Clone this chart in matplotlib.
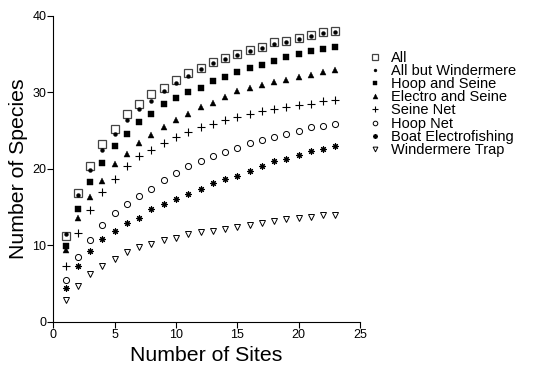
import matplotlib
matplotlib.use("Agg")
import matplotlib.pyplot as plt

plt.rcParams['font.family'] = ['Liberation Sans', 'DejaVu Sans']

sites = list(range(1, 24))

all_methods = [11.2, 16.8, 20.4, 23.2, 25.2, 27.1, 28.5, 29.7, 30.6, 31.6, 32.5, 33.2,
               33.9, 34.5, 35.0, 35.5, 35.9, 36.5, 36.7, 37.1, 37.5, 37.8, 38.0]
all_but_windermere = [11.5, 16.5, 19.8, 22.5, 24.5, 26.3, 27.8, 28.9, 30.1, 31.2, 32.1, 33.0,
                      33.8, 34.3, 34.8, 35.4, 35.8, 36.3, 36.6, 37.0, 37.4, 37.7, 37.9]
hoop_and_seine = [9.9, 14.7, 18.2, 20.7, 22.9, 24.5, 26.1, 27.2, 28.4, 29.3, 30.0, 30.6,
                  31.4, 32.0, 32.6, 33.1, 33.6, 34.1, 34.6, 35.0, 35.4, 35.6, 35.9]
electro_and_seine = [9.4, 13.5, 16.3, 18.4, 20.6, 21.9, 23.4, 24.4, 25.5, 26.4, 27.2, 28.0,
                     28.6, 29.4, 30.1, 30.6, 30.9, 31.3, 31.6, 32.0, 32.3, 32.6, 32.9]
seine_net = [7.3, 11.6, 14.6, 16.9, 18.6, 20.4, 21.6, 22.5, 23.4, 24.2, 24.8, 25.4,
             25.9, 26.4, 26.8, 27.2, 27.6, 27.8, 28.1, 28.3, 28.5, 28.8, 29.0]
hoop_net = [5.5, 8.5, 10.7, 12.6, 14.2, 15.4, 16.4, 17.4, 18.5, 19.4, 20.4, 21.0,
            21.7, 22.2, 22.7, 23.3, 23.8, 24.1, 24.5, 24.9, 25.4, 25.6, 25.9]
boat_electrofishing = [4.4, 7.3, 9.2, 10.8, 11.9, 12.9, 13.6, 14.7, 15.4, 16.0, 16.7, 17.4,
                       18.1, 18.6, 19.1, 19.7, 20.4, 21.0, 21.3, 21.8, 22.3, 22.6, 23.0]
windermere_trap = [2.8, 4.7, 6.2, 7.3, 8.2, 9.1, 9.7, 10.2, 10.7, 11.0, 11.4, 11.7,
                   11.9, 12.1, 12.4, 12.7, 12.9, 13.2, 13.4, 13.5, 13.7, 13.9, 14.0]

labels = ["All", "All but Windermere", "Hoop and Seine", "Electro and Seine",
          "Seine Net", "Hoop Net", "Boat Electrofishing", "Windermere Trap"]
series = [all_methods, all_but_windermere, hoop_and_seine, electro_and_seine,
          seine_net, hoop_net, boat_electrofishing, windermere_trap]

styles = [
    dict(marker='s', ms=5.2, mfc='white', mec='#444444', mew=0.9),
    dict(marker='o', ms=2.8, mfc='black', mec='black', mew=0.3),
    dict(marker='s', ms=4.2, mfc='black', mec='black', mew=0.3),
    dict(marker='^', ms=4.8, mfc='black', mec='black', mew=0.3),
    dict(marker='+', ms=5.5, mfc='black', mec='black', mew=0.8),
    dict(marker='o', ms=4.4, mfc='white', mec='black', mew=0.7),
    dict(marker=(8, 2, 0), ms=4.6, mfc='black', mec='black', mew=0.8),
    dict(marker='v', ms=4.6, mfc='white', mec='black', mew=0.7),
]

fig = plt.figure(figsize=(5.33, 3.71), dpi=100)
ax = fig.add_axes([0.100, 0.133, 0.5754, 0.8248])

handles = []
for values, label, st in zip(series, labels, styles):
    h, = ax.plot(sites, values, linestyle='none', label=label, **st)
    handles.append(h)

ax.set_xlim(0, 25)
ax.set_ylim(0, 40)
ax.set_xticks([0, 5, 10, 15, 20, 25])
ax.set_yticks([0, 10, 20, 30, 40])
ax.tick_params(direction='out', length=4, width=0.8, labelsize=9, pad=1)
for side in ('top', 'right'):
    ax.spines[side].set_visible(False)
for side in ('left', 'bottom'):
    ax.spines[side].set_linewidth(0.8)

ax.set_xlabel("Number of Sites", fontsize=15.3, labelpad=4)
ax.set_ylabel("Number of Species", fontsize=15.3, labelpad=3)

fig.legend(handles=handles, labels=labels, loc='upper left',
           bbox_to_anchor=(369 / 533, 1 - 51 / 371), frameon=False,
           fontsize=10.5, markerscale=0.75, handlelength=0.85, handletextpad=0.65,
           labelspacing=-0.06, borderpad=0, borderaxespad=0)

fig.savefig("out.png", dpi=100)
